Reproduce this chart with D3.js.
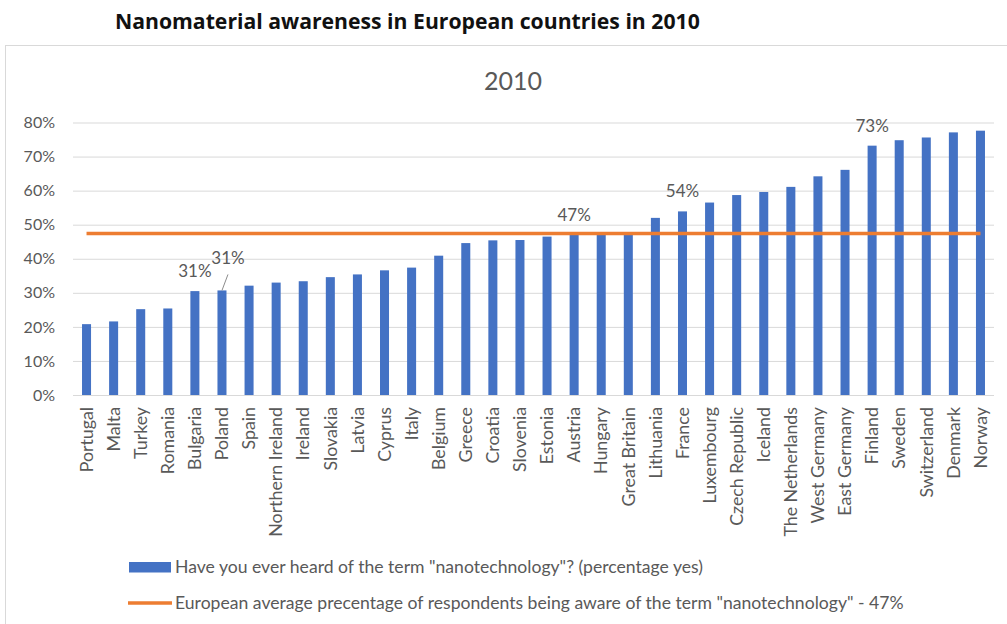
<!DOCTYPE html>
<html>
<head>
<meta charset="utf-8">
<script src="https://cdn.jsdelivr.net/npm/d3@7"></script>
<style>
  body { margin: 0; background: #fff; }
  text { font-family: Lato, "Open Sans", sans-serif; }
</style>
</head>
<body>
<div id="chart"></div>
<script>
// data (share of "yes" answers, 2010)
var countries = ["Portugal", "Malta", "Turkey", "Romania", "Bulgaria", "Poland", "Spain",
  "Northern Ireland", "Ireland", "Slovakia", "Latvia", "Cyprus", "Italy", "Belgium", "Greece",
  "Croatia", "Slovenia", "Estonia", "Austria", "Hungary", "Great Britain", "Lithuania", "France",
  "Luxembourg", "Czech Republic", "Iceland", "The Netherlands", "West Germany", "East Germany",
  "Finland", "Sweden", "Switzerland", "Denmark", "Norway"];
var awareness = [0.208, 0.216, 0.252, 0.254, 0.305, 0.307, 0.321, 0.330, 0.334, 0.346, 0.354,
  0.366, 0.374, 0.409, 0.446, 0.454, 0.455, 0.465, 0.470, 0.472, 0.474, 0.520, 0.539, 0.565,
  0.587, 0.596, 0.611, 0.642, 0.661, 0.732, 0.748, 0.756, 0.771, 0.776];
var europeAverage = 0.474;
var yTicks = [0, 0.1, 0.2, 0.3, 0.4, 0.5, 0.6, 0.7, 0.8];
// data labels shown on the chart
var labelled = [
  {country: "Bulgaria", text: "31%"},
  {country: "Poland", text: "31%", leader: true},
  {country: "Austria", text: "47%"},
  {country: "France", text: "54%"},
  {country: "Finland", text: "73%"}
];
var legendLabels = ["Have you ever heard of the term \"nanotechnology\"? (percentage yes)",
  "European average precentage of respondents being aware of the term \"nanotechnology\" - 47%"];

var W = 1007, H = 624;
var plot = {left: 73, right: 994, top: 122.5, bottom: 395};
var blue = "#4472c4", orange = "#ed7d31", grey = "#595959", grid = "#d9d9d9";

var svg = d3.select("#chart")
  .append("svg")
    .attr("width", W)
    .attr("height", H);

// page title above the chart box
svg.append("text")
  .attr("x", 115)
  .attr("y", 29)
  .style("font-family", "'Open Sans', sans-serif")
  .style("font-weight", "bold")
  .style("font-size", "21.2px")
  .attr("fill", "#111")
  .text("Nanomaterial awareness in European countries in 2010");

// chart box
svg.append("rect")
  .attr("x", 5.5)
  .attr("y", 45.5)
  .attr("width", 1010)
  .attr("height", 600)
  .attr("fill", "none")
  .attr("stroke", grid);

svg.append("text")
  .attr("x", 513)
  .attr("y", 90)
  .attr("text-anchor", "middle")
  .style("font-size", "25px")
  .attr("fill", grey)
  .text("2010");

var x = d3.scaleBand()
  .domain(countries)
  .range([plot.left, plot.right])
  .paddingInner(0.667)
  .paddingOuter(0.333);

var y = d3.scaleLinear()
  .domain([0, 0.8])
  .range([plot.bottom, plot.top]);

// gridlines + y labels
var yAxis = svg.append("g")
  .attr("transform", "translate(" + plot.left + ",0)")
  .call(d3.axisLeft(y)
    .tickValues(yTicks)
    .tickFormat(d3.format(".0%"))
    .tickSize(-(plot.right - plot.left))
    .tickPadding(18));
yAxis.select(".domain").remove();
yAxis.selectAll(".tick line").attr("stroke", grid);
yAxis.selectAll(".tick text")
  .attr("fill", grey)
  .style("font-size", "16px");

// category labels
var xAxis = svg.append("g")
  .attr("transform", "translate(0," + plot.bottom + ")")
  .call(d3.axisBottom(x).tickSize(0));
xAxis.select(".domain").remove();
xAxis.selectAll(".tick text")
  .attr("fill", grey)
  .style("font-size", "17.8px")
  .attr("text-anchor", "end")
  .attr("transform", "rotate(-90)")
  .attr("x", -12)
  .attr("y", 0)
  .attr("dy", "0.35em");

// bars
svg.append("g")
  .selectAll("rect")
  .data(countries)
  .enter()
  .append("rect")
    .attr("x", function(d) { return x(d); })
    .attr("y", function(d, i) { return y(awareness[i]); })
    .attr("width", x.bandwidth())
    .attr("height", function(d, i) { return plot.bottom - y(awareness[i]); })
    .attr("fill", blue);

// european average line
var first = countries[0], last = countries[countries.length - 1];
svg.append("line")
  .attr("x1", x(first) + x.bandwidth() / 2)
  .attr("x2", x(last) + x.bandwidth() / 2)
  .attr("y1", y(europeAverage))
  .attr("y2", y(europeAverage))
  .attr("stroke", orange)
  .attr("stroke-width", 3.5);

// data labels
labelled.forEach(function(l) {
  var i = countries.indexOf(l.country);
  var cx = x(l.country) + x.bandwidth() / 2;
  var top = y(awareness[i]);
  if (l.leader) {
    svg.append("line")
      .attr("x1", cx).attr("y1", top)
      .attr("x2", cx + 6).attr("y2", top - 16)
      .attr("stroke", "#8c8c8c")
      .attr("stroke-width", 1);
    cx += 6; top -= 12;
  }
  svg.append("text")
    .attr("x", cx)
    .attr("y", top - 14)
    .attr("text-anchor", "middle")
    .attr("fill", grey)
    .style("font-size", "17px")
    .text(l.text);
});

// legend
var legend = svg.append("g");
legend.append("rect")
  .attr("x", 129).attr("y", 562)
  .attr("width", 42).attr("height", 10.5)
  .attr("fill", blue);
legend.append("line")
  .attr("x1", 128).attr("x2", 172)
  .attr("y1", 603).attr("y2", 603)
  .attr("stroke", orange)
  .attr("stroke-width", 3.5);
legend.selectAll("text")
  .data(legendLabels)
  .enter()
  .append("text")
    .attr("x", 175)
    .attr("y", function(d, i) { return 573 + i * 36; })
    .attr("fill", grey)
    .style("font-size", "17.6px")
    .text(function(d) { return d; });
</script>
</body>
</html>
